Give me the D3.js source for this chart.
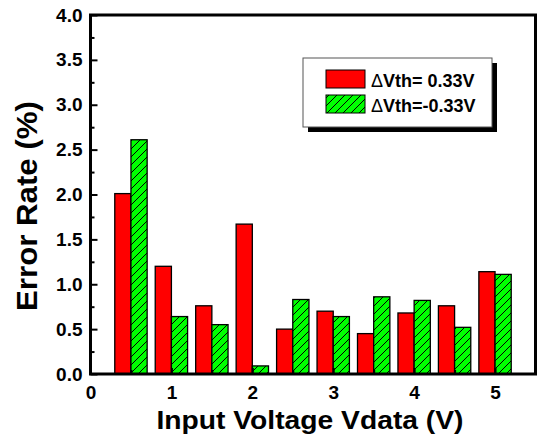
<!DOCTYPE html>
<html>
<head>
<meta charset="utf-8">
<script src="https://cdn.jsdelivr.net/npm/d3@7"></script>
<style>
  html, body { margin: 0; padding: 0; background: #fff; }
  svg { display: block; font-family: "Liberation Sans", Arial, sans-serif; }
</style>
</head>
<body>
<svg id="chart" width="544" height="440"></svg>
<script>
// Input voltage groups (V)
const voltages = [0.5, 1.0, 1.5, 2.0, 2.5, 3.0, 3.5, 4.0, 4.5, 5.0];
// Error rate (%) for each threshold shift
const errPositive = [2.01, 1.20, 0.76, 1.67, 0.50, 0.70, 0.45, 0.68, 0.76, 1.14];
const errNegative = [2.61, 0.64, 0.55, 0.09, 0.83, 0.64, 0.86, 0.82, 0.52, 1.11];
const seriesNames = ["Vth= 0.33V", "Vth=-0.33V"];
const xTickValues = [0, 1, 2, 3, 4, 5];
const xMinorValues = [0.5, 1.5, 2.5, 3.5, 4.5];
const yTickValues = [0, 0.5, 1.0, 1.5, 2.0, 2.5, 3.0, 3.5, 4.0];
const yMinorValues = [0.25, 0.75, 1.25, 1.75, 2.25, 2.75, 3.25, 3.75];

const svg = d3.select("#chart");
const L = 90.5, R = 535.5, T = 15, B = 374;
const barW = 0.2; // bar width in x units

const x = d3.scaleLinear().domain([0, 5.5]).range([L, R]);
const y = d3.scaleLinear().domain([0, 4]).range([B, T]);

// diagonal hatch for the negative-shift series
const defs = svg.append("defs");
const pat = defs.append("pattern")
  .attr("id", "hatch").attr("patternUnits", "userSpaceOnUse")
  .attr("width", 8).attr("height", 8);
pat.append("rect").attr("width", 8).attr("height", 8).attr("fill", "#00ff00");
pat.append("path").attr("d", "M-2,2 L2,-2 M0,8 L8,0 M6,10 L10,6")
  .attr("stroke", "#000").attr("stroke-width", 1);

// bars
const g = svg.append("g");
g.selectAll("rect.pos").data(voltages).join("rect")
  .attr("class", "pos")
  .attr("x", v => x(v - barW))
  .attr("width", v => x(v) - x(v - barW))
  .attr("y", (v, i) => y(errPositive[i]))
  .attr("height", (v, i) => y(0) - y(errPositive[i]))
  .attr("fill", "#ff0000").attr("stroke", "#000").attr("stroke-width", 1.3);
g.selectAll("rect.neg").data(voltages).join("rect")
  .attr("class", "neg")
  .attr("x", v => x(v))
  .attr("width", v => x(v + barW) - x(v))
  .attr("y", (v, i) => y(errNegative[i]))
  .attr("height", (v, i) => y(0) - y(errNegative[i]))
  .attr("fill", "url(#hatch)").attr("stroke", "#000").attr("stroke-width", 1.3);

// axes with inward ticks
function styleAxis(sel) {
  sel.select(".domain").remove();
  sel.selectAll(".tick line").attr("stroke", "#000").attr("stroke-width", 2);
  sel.selectAll(".tick text").attr("fill", "#000")
    .attr("font-size", 19).attr("font-weight", "bold");
}
svg.append("g").attr("transform", `translate(${L},0)`)
  .call(d3.axisLeft(y).tickValues(yTickValues).tickFormat(d3.format(".1f"))
    .tickSize(-7).tickPadding(8))
  .call(styleAxis);
svg.append("g").attr("transform", `translate(${L},0)`)
  .call(d3.axisLeft(y).tickValues(yMinorValues).tickFormat("").tickSize(-4))
  .call(styleAxis);
svg.append("g").attr("transform", `translate(0,${B})`)
  .call(d3.axisBottom(x).tickValues(xTickValues).tickFormat(d3.format("d"))
    .tickSize(-6).tickPadding(12))
  .call(styleAxis);
svg.append("g").attr("transform", `translate(0,${B})`)
  .call(d3.axisBottom(x).tickValues(xMinorValues).tickFormat("").tickSize(-4))
  .call(styleAxis);

// plot frame
svg.append("rect").attr("x", L).attr("y", T)
  .attr("width", R - L).attr("height", B - T)
  .attr("fill", "none").attr("stroke", "#000").attr("stroke-width", 3);

// axis titles
svg.append("text")
  .attr("x", 310).attr("y", 429).attr("text-anchor", "middle")
  .attr("font-size", 26).attr("font-weight", "bold")
  .attr("textLength", 307).attr("lengthAdjust", "spacingAndGlyphs")
  .text("Input Voltage Vdata (V)");
svg.append("text")
  .attr("transform", "translate(37,206) rotate(-90)")
  .attr("text-anchor", "middle")
  .attr("font-size", 29).attr("font-weight", "bold")
  .attr("textLength", 210).attr("lengthAdjust", "spacingAndGlyphs")
  .text("Error Rate (%)");

// legend
const lg = svg.append("g");
lg.append("rect").attr("x", 308).attr("y", 63).attr("width", 189).attr("height", 69).attr("fill", "#000");
lg.append("rect").attr("x", 303).attr("y", 58).attr("width", 189).attr("height", 69)
  .attr("fill", "#fff").attr("stroke", "#555").attr("stroke-width", 1);
const fills = ["#ff0000", "url(#hatch)"];
seriesNames.forEach((name, i) => {
  const yy = 70 + i * 25;
  lg.append("rect").attr("x", 326).attr("y", yy).attr("width", 39).attr("height", 18)
    .attr("fill", fills[i]).attr("stroke", "#000").attr("stroke-width", 1);
  const t = lg.append("text").attr("x", 371).attr("y", yy + 17)
    .attr("font-size", 18).attr("font-weight", "bold");
  t.append("tspan").attr("font-weight", "normal").text("\u0394");
  t.append("tspan").text(name);
});
</script>
</body>
</html>
